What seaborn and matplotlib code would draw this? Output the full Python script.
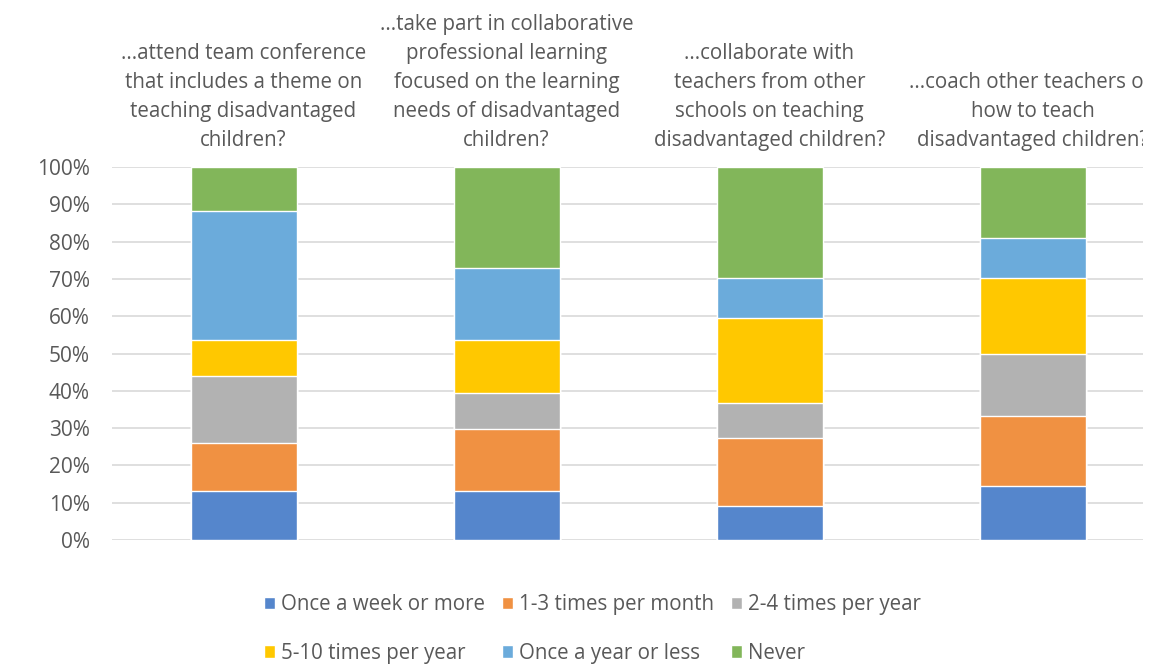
import numpy as np
import pandas as pd
import matplotlib
matplotlib.use("Agg")
import matplotlib.pyplot as plt
import seaborn as sns
from matplotlib.patches import Rectangle
from matplotlib.ticker import PercentFormatter

categories = [
    "...attend team conference\nthat includes a theme on\nteaching disadvantaged\nchildren?",
    "...take part in collaborative\nprofessional learning\nfocused on the learning\nneeds of disadvantaged\nchildren?",
    "...collaborate with\nteachers from other\nschools on teaching\ndisadvantaged children?",
    "...coach other teachers on\nhow to teach\ndisadvantaged children?",
]
series_names = ["Once a week or more", "1-3 times per month", "2-4 times per year",
                "5-10 times per year", "Once a year or less", "Never"]
once_week = [13.1, 13.1, 9.2, 14.4]
one_three_month = [12.8, 16.7, 18.1, 18.9]
two_four_year = [18.1, 9.5, 9.3, 16.7]
five_ten_year = [9.5, 14.2, 22.9, 20.2]
once_year_less = [34.8, 19.4, 10.7, 10.8]
never = [11.7, 27.1, 29.8, 19.0]
colors = ["#5586CC", "#F09142", "#B2B2B2", "#FFC800", "#6BABDB", "#82B65A"]

series_vals = [once_week, one_three_month, two_four_year, five_ten_year, once_year_less, never]
vals = np.array(series_vals, dtype=float)
vals = vals / vals.sum(axis=0)  # 100% stacked
cum = np.cumsum(vals, axis=0)

sns.set_theme(style="white")
plt.rcParams["font.family"] = ["Open Sans", "DejaVu Sans"]
TXT = "#595959"
FS = 14.8

W, H = 1173, 664
fig = plt.figure(figsize=(W / 100, H / 100), dpi=100)
ax = fig.add_axes([112 / W, 1 - 540 / H, (1143 - 112) / W, (540 - 167) / H])

xpos = list(range(len(categories)))
for i in reversed(range(len(series_names))):
    df = pd.DataFrame({"cat": xpos, "val": cum[i]})
    sns.barplot(data=df, x="cat", y="val", color=colors[i], saturation=1,
                width=106 / 263, ax=ax, label=series_names[i], order=xpos,
                native_scale=True, zorder=3)

handles, labels = ax.get_legend_handles_labels()
if ax.get_legend() is not None:
    ax.get_legend().remove()

ax.set_xlim(-0.5, -0.5 + (1143 - 112) / 263)
ax.set_ylim(0, 1)
ax.set_yticks(np.arange(0, 1.01, 0.1))
ax.yaxis.set_major_formatter(PercentFormatter(1.0, decimals=0))
ax.tick_params(axis="y", length=0, pad=16, labelsize=15, labelcolor=TXT)
ax.set_xticks([])
ax.set_xlabel("")
ax.set_ylabel("")
ax.grid(axis="y", color="#D9D9D9", linewidth=1.2, zorder=0)
for s in ax.spines.values():
    s.set_visible(False)

for i, c in enumerate(categories):
    ax.text(i, 1.0 + 16 / (540 - 167), c, transform=ax.get_xaxis_transform(),
            ha="center", va="bottom", fontsize=FS, color=TXT, linespacing=1.5,
            multialignment="center")

hmap = dict(zip(labels, handles))
order = [0, 3, 1, 4, 2, 5]
fig.legend([hmap[series_names[k]] for k in order], [series_names[k] for k in order],
           ncol=3, loc="upper left", bbox_to_anchor=(264 / W, 1 - 594 / H),
           frameon=False, fontsize=FS, labelcolor=TXT, handlelength=0.55,
           handleheight=0.55, handletextpad=0.3, columnspacing=0.8,
           labelspacing=1.35, borderpad=0, borderaxespad=0)

# the reference image is cropped at the right edge of the plot area
fig.patches.append(Rectangle((1143 / W, 0), 1 - 1143 / W, 1, transform=fig.transFigure,
                             facecolor="white", edgecolor="none", zorder=20))

fig.savefig("out.png", dpi=100)
